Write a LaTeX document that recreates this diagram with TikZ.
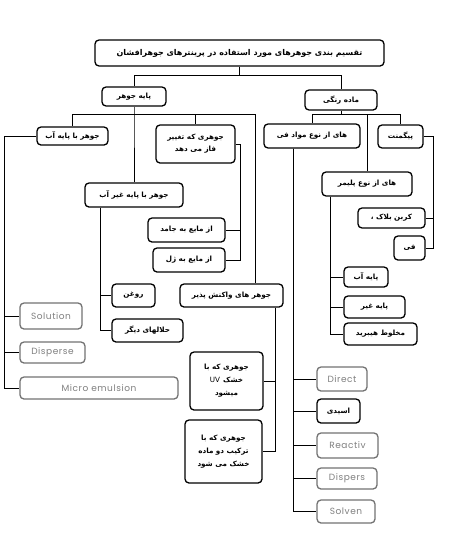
\documentclass[tikz,border=0pt]{standalone}
\usepackage{fontspec}
\TeXXeTstate=1
\newfontfamily\arabicfont[Script=Arabic]{DejaVu Sans}
\newfontfamily\plainfont{DejaVu Sans}
\newfontfamily\latfont[LetterSpace=6]{Poppins}
\newcommand\RL[1]{\beginR #1\endR}
\tikzset{
 bx/.style={draw=black, line width=1.3pt, rounded corners=4pt, inner sep=0pt, align=center, fill=white,
   font=\arabicfont\bfseries\fontsize{7.2}{9}\selectfont},
 gx/.style={bx, draw=black!55, text=black!50, font=\latfont\fontsize{9}{11}\selectfont},
 ln/.style={line width=1pt}
}
\begin{document}
\begin{tikzpicture}[x=1pt,y=-1pt]
\fill[white] (0,0) rectangle (450,555);
\useasboundingbox (0,0) rectangle (450,555);
% nodes
\node[bx,minimum width=289pt,minimum height=26pt,font=\arabicfont\bfseries\fontsize{8}{10}\selectfont] (top) at (239.5,53) {\RL{تقسیم بندی جوهرهای مورد استفاده در پرینترهای جوهرافشان}};
\node[bx,minimum width=64pt,minimum height=19pt] (base) at (134,96.5) {\RL{پایه جوهر}};
\node[bx,minimum width=72pt,minimum height=20pt] (col) at (341,100) {\RL{ماده رنگی}};
\node[bx,minimum width=71pt,minimum height=18pt] (wat) at (72.5,136) {\RL{جوهر با پایه آب}};
\node[bx,minimum width=79pt,minimum height=38pt] (phase) at (195.5,144) {\RL{جوهری که تغییر}\\[3pt]\RL{فاز می دهد}};
\node[bx,minimum width=98pt,minimum height=24pt] (nonwat) at (134,195) {\RL{جوهر با پایه غیر آب}};
\node[bx,minimum width=77pt,minimum height=24pt] (lsol) at (186.5,230) {\RL{از مایع به جامد}};
\node[bx,minimum width=72pt,minimum height=24pt] (lgel) at (189,260) {\RL{از مایع به ژل}};
\node[bx,minimum width=43pt,minimum height=23pt] (oil) at (133.5,295.5) {\RL{روغن}};
\node[bx,minimum width=71pt,minimum height=23pt] (other) at (147.5,330.5) {\RL{حلالهای دیگر}};
\node[bx,minimum width=103pt,minimum height=23pt] (react) at (231.5,295.5) {\RL{جوهر های واکنش پذیر}};
\node[bx,minimum width=73pt,minimum height=58pt] (uv) at (226.5,381) {\RL{جوهری که با}\\[4pt]\mbox{\plainfont\mdseries UV}\hspace{3pt}\mbox{\RL{خشک}}\\[4pt]\RL{میشود}};
\node[bx,minimum width=77pt,minimum height=63pt] (two) at (223.5,451.5) {\RL{جوهری که با}\\[4pt]\RL{ترکیب دو ماده}\\[4pt]\RL{خشک می شود}};
\node[gx,minimum width=62pt,minimum height=26pt] (sol) at (51,316) {Solution};
\node[gx,minimum width=65pt,minimum height=21pt] (disp) at (52.5,352.5) {Disperse};
\node[gx,minimum width=158pt,minimum height=22pt] (micro) at (99,388) {Micro emulsion};
\node[bx,minimum width=96pt,minimum height=24pt] (dye) at (312,136) {\RL{های از نوع مواد فی}};
\node[bx,minimum width=45pt,minimum height=23pt] (pig) at (400.5,136.5) {\RL{پیگمنت}};
\node[bx,minimum width=90pt,minimum height=24pt] (poly) at (367,184) {\RL{های از نوع پلیمر}};
\node[bx,minimum width=67pt,minimum height=20pt] (carbon) at (391.5,218) {\RL{کربن بلاک ،}};
\node[bx,minimum width=31pt,minimum height=24pt] (fi) at (409.5,248) {\RL{فی}};
\node[bx,minimum width=44pt,minimum height=20pt] (pw) at (366,277) {\RL{پایه آب}};
\node[bx,minimum width=61pt,minimum height=22pt] (pnon) at (374.5,307) {\RL{پایه غیر}};
\node[bx,minimum width=73pt,minimum height=22pt] (hyb) at (380.5,334) {\RL{مخلوط هیبرید}};
\node[gx,minimum width=50pt,minimum height=24pt] (direct) at (342,379) {Direct};
\node[bx,minimum width=43pt,minimum height=24pt] (acid) at (338.5,411) {\RL{اسیدی}};
\node[gx,minimum width=61pt,minimum height=25pt] (reactiv) at (347.5,445.5) {Reactiv};
\node[gx,minimum width=60pt,minimum height=21pt] (dispers) at (347,478.5) {Dispers};
\node[gx,minimum width=58pt,minimum height=23pt] (solven) at (346,511.5) {Solven};
% connectors
\draw[ln] (top.south) -- ++(0,9) coordinate (t1) -| (base.north);
\draw[ln] (t1) -| (col.north);
\draw[ln] (base.south) -- ++(0,8) coordinate (b1) -- (b1 |- nonwat.north);
\draw[ln] (b1) -| (wat.north);
\draw[ln] (b1) -| (phase.north);
\draw[ln] (b1) -| ([xshift=23.5pt]react.north);
\draw[ln] (wat.west) -- ++(-32,0) coordinate (w1) |- (micro.west);
\draw[ln] (w1) |- (sol.west);
\draw[ln] (w1) |- (disp.west);
\draw[ln] (phase.east) -- ++(5,0) coordinate (p1) |- (lgel.east);
\draw[ln] (p1) |- (lsol.east);
\draw[ln] ([xshift=-34pt]nonwat.south) coordinate (n1) |- (other.west);
\draw[ln] (n1) |- (oil.west);
\draw[ln] ([xshift=43.5pt]react.south) coordinate (r1) |- (two.east);
\draw[ln] (r1) |- (uv.east);
\draw[ln] (col.south) -- ++(0,4) coordinate (c1) -| (dye.north);
\draw[ln] (c1) -| (pig.north);
\draw[ln] (c1) -| (poly.north);
\draw[ln] (pig.east) -- ++(9.5,0) coordinate (g1) |- (fi.east);
\draw[ln] (g1) |- (carbon.east);
\draw[ln] ([xshift=-37pt]poly.south) coordinate (q1) |- (hyb.west);
\draw[ln] (q1) |- (pw.west);
\draw[ln] (q1) |- (pnon.west);
\draw[ln] ([xshift=-19pt]dye.south) coordinate (d1) |- (solven.west);
\draw[ln] (d1) |- (direct.west);
\draw[ln] (d1) |- (acid.west);
\draw[ln] (d1) |- (reactiv.west);
\draw[ln] (d1) |- (dispers.west);
\end{tikzpicture}
\end{document}
